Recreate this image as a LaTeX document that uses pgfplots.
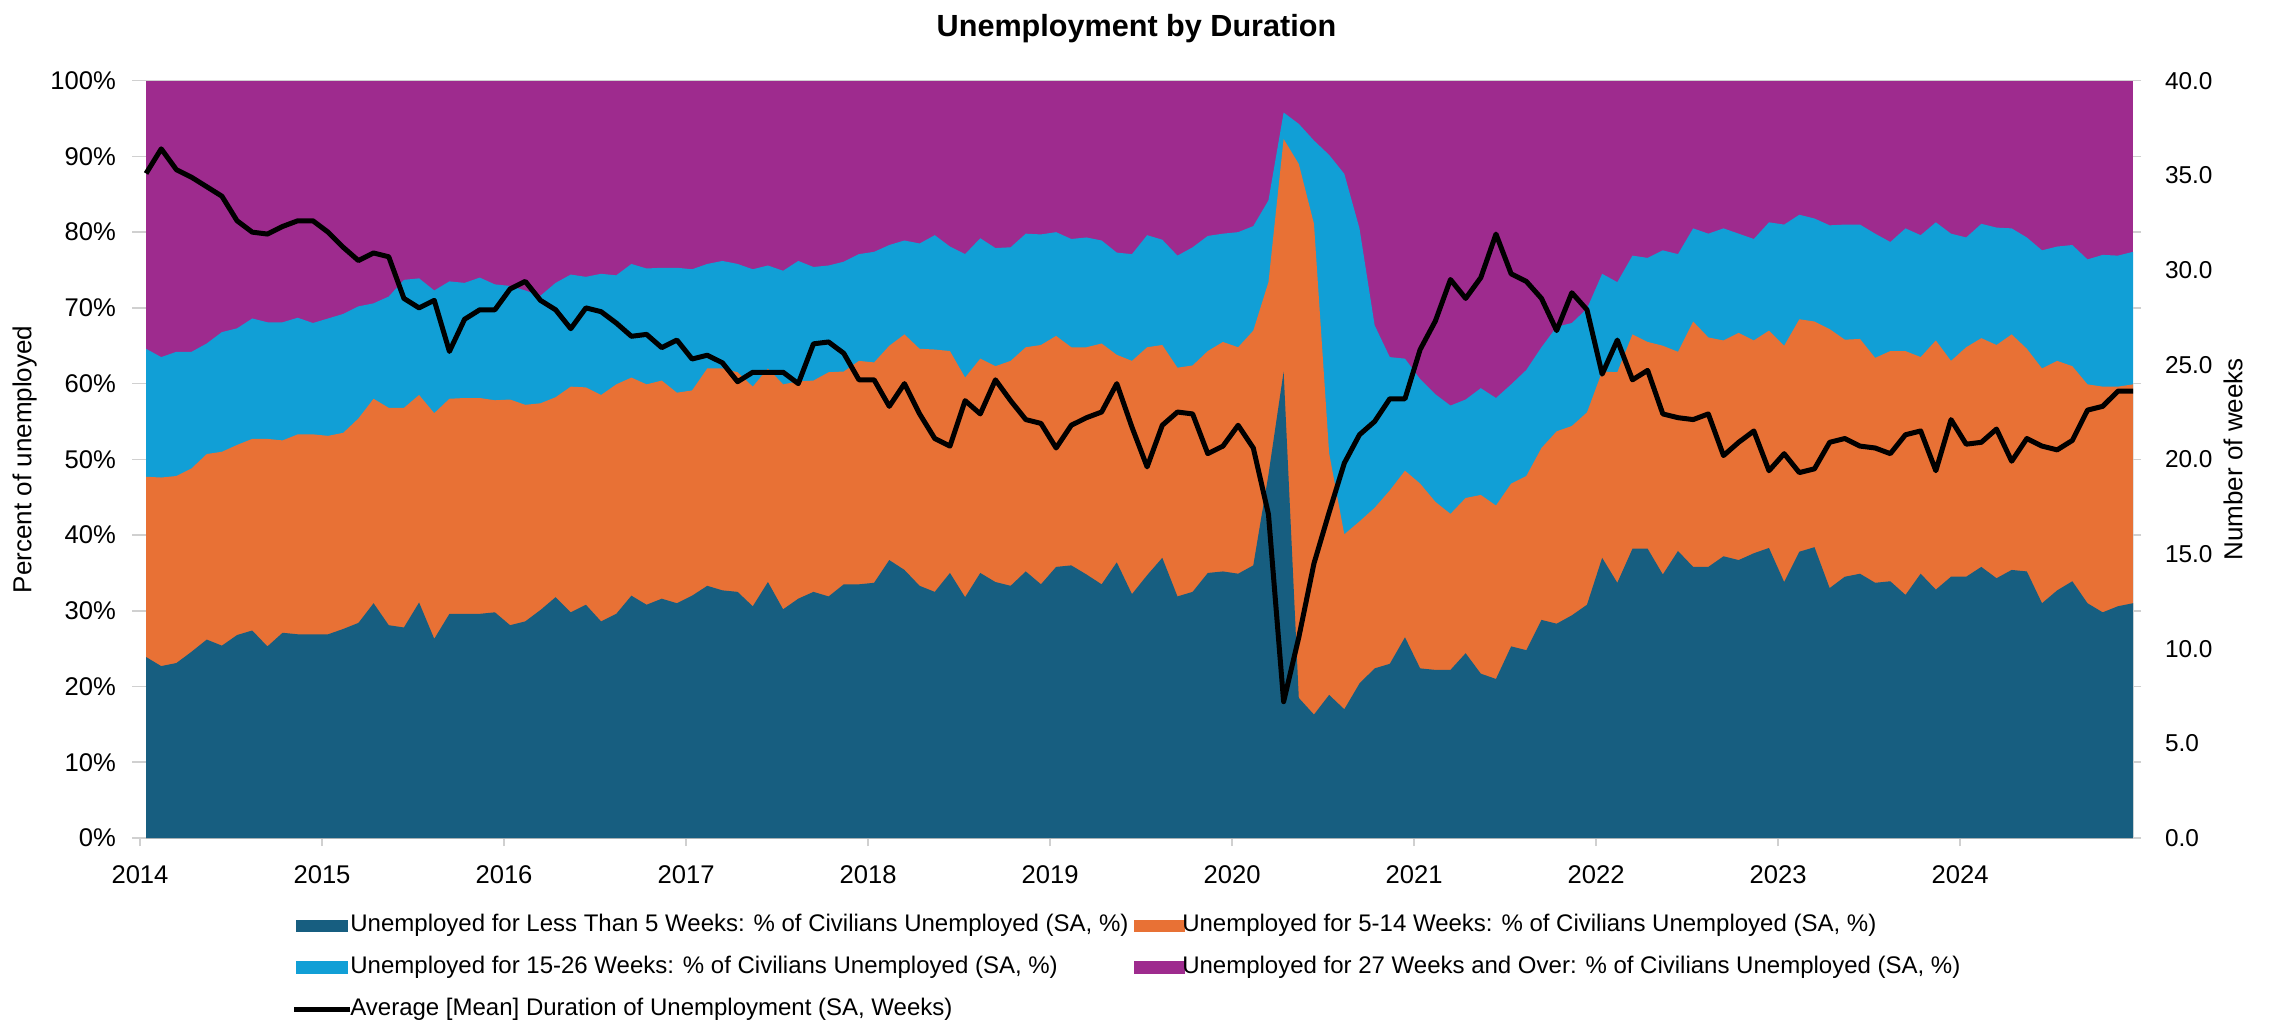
\documentclass[border=0pt]{standalone}
\usepackage{fontspec}
\setmainfont{Liberation Sans}
\usepackage{pgfplots}
\pgfplotsset{compat=1.18}
\usepackage{pgfplotstable}
\definecolor{dblue}{HTML}{175E80}
\definecolor{orng}{HTML}{E87135}
\definecolor{lblue}{HTML}{119FD6}
\definecolor{purp}{HTML}{9E2B8E}
\definecolor{axgray}{HTML}{D0D0D0}

\pgfplotstableread{
i b1 b2 b3 w
0 23.9 47.7 64.6 35.1
1 22.7 47.6 63.5 36.4
2 23.1 47.8 64.2 35.3
3 24.6 48.8 64.2 34.9
4 26.2 50.7 65.3 34.4
5 25.4 51.0 66.8 33.9
6 26.8 51.9 67.3 32.6
7 27.4 52.7 68.6 32.0
8 25.3 52.7 68.1 31.9
9 27.1 52.5 68.1 32.3
10 26.9 53.3 68.7 32.6
11 26.9 53.3 68.0 32.6
12 26.9 53.1 68.6 32.0
13 27.6 53.5 69.2 31.2
14 28.4 55.4 70.2 30.5
15 31.0 58.0 70.6 30.9
16 28.1 56.8 71.5 30.7
17 27.8 56.8 73.7 28.5
18 31.1 58.5 73.9 28.0
19 26.3 56.1 72.3 28.4
20 29.6 58.0 73.5 25.7
21 29.6 58.1 73.3 27.4
22 29.6 58.1 74.0 27.9
23 29.8 57.8 73.1 27.9
24 28.1 57.9 72.9 29.0
25 28.6 57.2 72.3 29.4
26 30.1 57.4 71.6 28.4
27 31.8 58.2 73.3 27.9
28 29.8 59.6 74.4 26.9
29 30.8 59.5 74.1 28.0
30 28.6 58.5 74.5 27.8
31 29.6 59.9 74.3 27.2
32 32.0 60.8 75.8 26.5
33 30.8 59.9 75.2 26.6
34 31.6 60.4 75.3 25.9
35 31.0 58.8 75.3 26.3
36 32.0 59.1 75.1 25.3
37 33.3 62.0 75.8 25.5
38 32.7 62.0 76.2 25.1
39 32.5 61.5 75.8 24.1
40 30.6 59.6 75.1 24.6
41 33.8 62.0 75.6 24.6
42 30.2 59.9 74.9 24.6
43 31.6 60.3 76.2 24.0
44 32.5 60.4 75.4 26.1
45 31.9 61.5 75.6 26.2
46 33.5 61.6 76.1 25.6
47 33.5 63.0 77.1 24.2
48 33.7 62.8 77.4 24.2
49 36.7 65.0 78.3 22.8
50 35.4 66.5 78.9 24.0
51 33.3 64.6 78.5 22.4
52 32.5 64.5 79.6 21.1
53 35.0 64.3 78.1 20.7
54 31.8 60.8 77.1 23.1
55 35.0 63.3 79.2 22.4
56 33.8 62.3 77.9 24.2
57 33.3 63.0 78.0 23.1
58 35.2 64.8 79.8 22.1
59 33.5 65.1 79.7 21.9
60 35.8 66.3 80.0 20.6
61 36.0 64.8 79.1 21.8
62 34.8 64.8 79.3 22.2
63 33.5 65.3 78.9 22.5
64 36.4 63.8 77.3 24.0
65 32.2 63.0 77.1 21.7
66 34.7 64.8 79.6 19.6
67 37.0 65.1 79.0 21.8
68 31.9 62.1 76.9 22.5
69 32.5 62.4 78.0 22.4
70 35.0 64.3 79.5 20.3
71 35.2 65.5 79.8 20.7
72 34.9 64.8 80.0 21.8
73 36.0 67.0 80.8 20.6
74 48.0 73.4 84.2 17.1
75 61.6 92.3 95.8 7.2
76 18.5 89.0 94.3 10.6
77 16.3 81.1 92.1 14.5
78 18.9 50.8 90.2 17.2
79 17.0 40.1 87.7 19.8
80 20.4 41.8 80.5 21.3
81 22.4 43.6 67.7 22.0
82 23.0 45.9 63.5 23.2
83 26.5 48.5 63.3 23.2
84 22.4 46.8 60.6 25.8
85 22.2 44.4 58.6 27.3
86 22.2 42.8 57.1 29.5
87 24.4 44.9 57.9 28.5
88 21.7 45.3 59.4 29.6
89 21.0 43.9 58.1 31.9
90 25.3 46.8 59.9 29.8
91 24.8 47.8 61.8 29.4
92 28.8 51.5 64.8 28.5
93 28.3 53.7 67.5 26.8
94 29.4 54.4 68.0 28.8
95 30.8 56.2 69.9 27.9
96 37.0 61.6 74.5 24.5
97 33.7 61.5 73.4 26.3
98 38.2 66.5 76.9 24.2
99 38.2 65.5 76.6 24.7
100 34.8 65.0 77.6 22.4
101 37.9 64.2 77.1 22.2
102 35.8 68.2 80.5 22.1
103 35.8 66.1 79.8 22.4
104 37.2 65.7 80.5 20.2
105 36.7 66.7 79.8 20.9
106 37.6 65.7 79.1 21.5
107 38.3 67.0 81.3 19.4
108 33.8 65.0 81.0 20.3
109 37.8 68.5 82.3 19.3
110 38.4 68.2 81.8 19.5
111 33.0 67.2 80.9 20.9
112 34.5 65.8 81.0 21.1
113 34.9 65.9 81.0 20.7
114 33.7 63.4 79.8 20.6
115 33.9 64.3 78.7 20.3
116 32.1 64.3 80.5 21.3
117 34.9 63.5 79.6 21.5
118 32.8 65.7 81.3 19.4
119 34.5 63.0 79.8 22.1
120 34.5 64.8 79.3 20.8
121 35.8 66.0 81.1 20.9
122 34.3 65.1 80.6 21.6
123 35.4 66.5 80.5 19.9
124 35.2 64.6 79.3 21.1
125 31.0 62.0 77.6 20.7
126 32.7 63.0 78.1 20.5
127 33.9 62.3 78.3 21.0
128 31.0 59.9 76.4 22.6
129 29.8 59.6 77.0 22.8
130 30.6 59.6 76.9 23.6
131 31.0 59.9 77.4 23.6
}\data

\begin{document}
\begin{tikzpicture}
\useasboundingbox (-70pt,-93pt) rectangle (1066pt,419pt);
\begin{axis}[
  scale only axis, width=996.5pt, height=378.65pt,
  xmin=-0.4, xmax=131, ymin=0, ymax=100,
  axis x line*=bottom, axis y line*=left,
  x axis line style={-, draw=axgray, line width=0.8pt},
  y axis line style={draw=none},
  tick align=outside, major tick length=4pt,
  tick style={draw=axgray, line width=0.8pt},
  xtick={-0.4,11.6,23.6,35.6,47.6,59.6,71.6,83.6,95.6,107.6,119.6},
  xticklabels={2014,2015,2016,2017,2018,2019,2020,2021,2022,2023,2024},
  ytick={0,10,...,100},
  yticklabels={0\%,10\%,20\%,30\%,40\%,50\%,60\%,70\%,80\%,90\%,100\%},
  ymajorgrids, major grid style={draw=axgray, line width=0.8pt},
  tick label style={font=\fontsize{12.8}{15}\selectfont, inner sep=0pt},
  yticklabel style={anchor=east, xshift=4.6pt},
  xticklabel style={anchor=north, yshift=2.2pt},
  yticklabel shift=12.5pt,
  xticklabel shift=11.8pt,
  every axis y label/.style={at={(axis description cs:0,0.5)}, xshift=-57.7pt, rotate=90, anchor=center, font=\fontsize{13}{15}\selectfont},
  ylabel={Percent of unemployed},
  title={Unemployment by Duration},
  title style={at={(axis description cs:0.5,1)}, anchor=base, yshift=16pt, font=\bfseries\fontsize{15.3}{18}\selectfont},
  legend columns=2,
  legend cell align=left,
  legend style={at={(axis description cs:0,0)}, anchor=north west, xshift=76pt, yshift=-38.3pt,
    draw=none, fill=none, inner sep=0pt, outer sep=0pt,
    font=\fontsize{12}{14}\selectfont, row sep=9.6pt,
    nodes={inner sep=0pt, text height=8.6pt, text depth=2.6pt},
    /tikz/every odd column/.append style={column sep=-1.3pt},
    /tikz/every even column/.append style={column sep=2.5pt}},
]
\addplot[fill=purp, draw=none, forget plot] coordinates {(0,100) (131,100)} \closedcycle;
\addplot[fill=lblue, draw=none, forget plot] table[x=i, y=b3] {\data} \closedcycle;
\addplot[fill=orng, draw=none, forget plot] table[x=i, y=b2] {\data} \closedcycle;
\addplot[fill=dblue, draw=none, forget plot] table[x=i, y=b1] {\data} \closedcycle;

\addlegendimage{legend image code/.code={\fill[dblue] (0pt,-2.9pt) rectangle (25.3pt,2.9pt);}}
\addlegendentry{Unemployed for Less Than 5 Weeks: \% of Civilians Unemployed (SA, \%)}
\addlegendimage{legend image code/.code={\fill[orng] (0pt,-2.9pt) rectangle (25.3pt,2.9pt);}}
\addlegendentry{Unemployed for 5-14 Weeks: \% of Civilians Unemployed (SA, \%)}
\addlegendimage{legend image code/.code={\fill[lblue] (0pt,-2.9pt) rectangle (25.3pt,2.9pt);}}
\addlegendentry{Unemployed for 15-26 Weeks: \% of Civilians Unemployed (SA, \%)}
\addlegendimage{legend image code/.code={\fill[purp] (0pt,-2.9pt) rectangle (25.3pt,2.9pt);}}
\addlegendentry{Unemployed for 27 Weeks and Over: \% of Civilians Unemployed (SA, \%)}
\addlegendimage{legend image code/.code={\draw[black, line width=2.5pt] (-1pt,0pt) -- (27pt,0pt);}}
\addlegendentry{Average [Mean] Duration of Unemployment (SA, Weeks)}
\end{axis}

\begin{axis}[
  scale only axis, width=996.5pt, height=378.65pt,
  xmin=-0.4, xmax=131, ymin=0, ymax=40,
  axis x line=none, axis y line*=right,
  y axis line style={draw=none},
  tick align=outside, major tick length=4pt,
  ytick style={draw=none},
  ytick={0,5,...,40},
  extra y ticks={0,4,...,40},
  extra y tick labels={},
  extra y tick style={ytick style={draw=axgray, line width=0.8pt}},
  tick label style={font=\fontsize{12.2}{15}\selectfont, inner sep=0pt},
  yticklabel style={anchor=west, xshift=-2.7pt, /pgf/number format/fixed, /pgf/number format/fixed zerofill, /pgf/number format/precision=1, /pgf/number format/assume math mode=true},
  yticklabel shift=14.5pt,
  every axis y label/.style={at={(axis description cs:1,0.5)}, xshift=50pt, rotate=90, anchor=center, font=\fontsize{13}{15}\selectfont},
  ylabel={Number of weeks},
]
\addplot[black, line width=2.5pt, line join=round] table[x=i, y=w] {\data};
\end{axis}
\end{tikzpicture}
\end{document}
